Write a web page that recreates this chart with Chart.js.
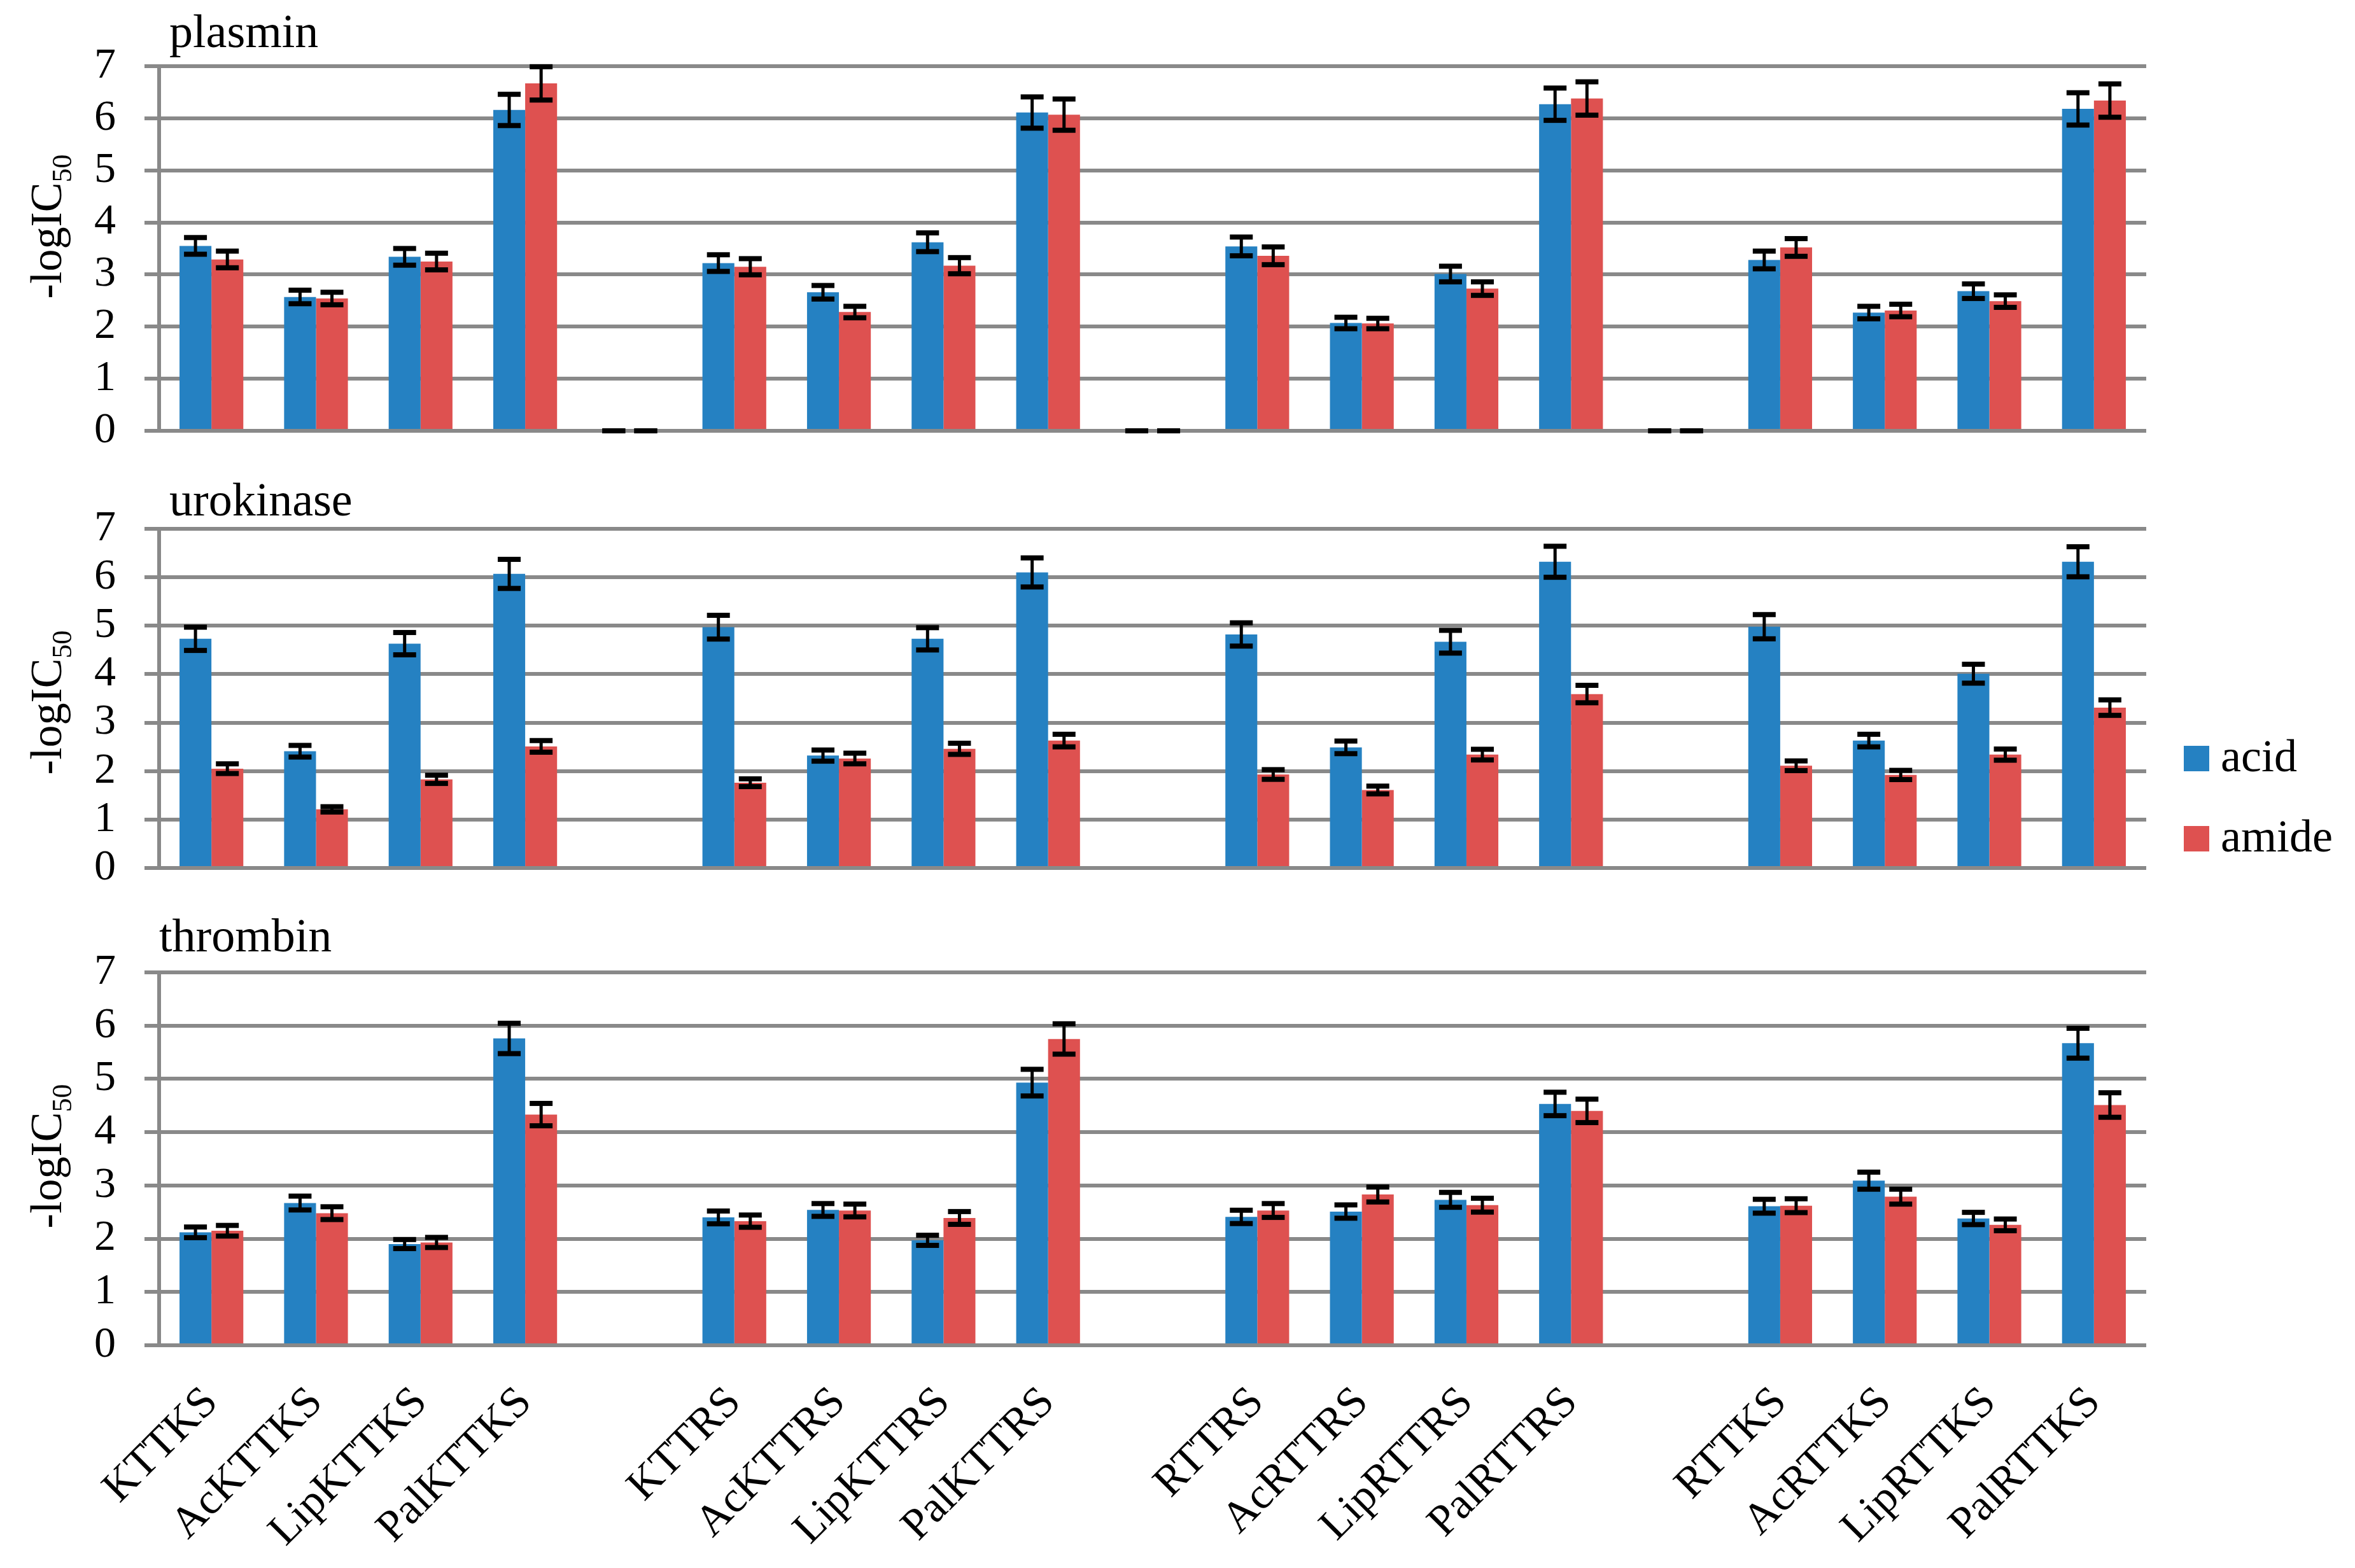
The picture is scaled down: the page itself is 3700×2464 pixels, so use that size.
<!DOCTYPE html>
<html><head><meta charset="utf-8">
<script src="https://cdn.jsdelivr.net/npm/chart.js@4.4.1/dist/chart.umd.min.js"></script>
<style>
html,body{margin:0;padding:0;background:#fff;width:3700px;height:2464px;overflow:hidden;}
canvas{position:absolute;left:0;}
</style></head><body>
<canvas id="c1" width="3700" height="700" style="top:0px;width:3700px;height:700px"></canvas>
<canvas id="c2" width="3700" height="660" style="top:740px;width:3700px;height:660px"></canvas>
<canvas id="c3" width="3700" height="1064" style="top:1400px;width:3700px;height:1064px"></canvas>
<script>
// ---------- data ----------
const categories = ['KTTKS','AcKTTKS','LipKTTKS','PalKTTKS','', 'KTTRS','AcKTTRS','LipKTTRS','PalKTTRS','', 'RTTRS','AcRTTRS','LipRTTRS','PalRTTRS','', 'RTTKS','AcRTTKS','LipRTTKS','PalRTTKS'];
const seriesNames = ['acid','amide'];
const yTicks = [0,1,2,3,4,5,6,7];

const plasminAcid     = [3.55,2.57,3.34,6.16,0, 3.22,2.66,3.62,6.11,0, 3.54,2.07,3.01,6.27,0, 3.28,2.27,2.68,6.18];
const plasminAcidErr  = [0.16,0.13,0.16,0.30,0, 0.16,0.13,0.18,0.30,0, 0.18,0.11,0.15,0.31,0, 0.17,0.12,0.14,0.31];
const plasminAmide    = [3.29,2.54,3.25,6.67,0, 3.15,2.28,3.17,6.07,0, 3.36,2.06,2.73,6.38,0, 3.52,2.31,2.49,6.34];
const plasminAmideErr = [0.16,0.12,0.16,0.32,0, 0.155,0.11,0.155,0.30,0, 0.17,0.10,0.13,0.32,0, 0.17,0.12,0.12,0.32];

const urokinaseAcid     = [4.73,2.41,4.63,6.07,null, 4.97,2.32,4.73,6.10,null, 4.82,2.49,4.67,6.32,null, 4.98,2.63,4.01,6.32];
const urokinaseAcidErr  = [0.24,0.12,0.23,0.30,null, 0.245,0.115,0.23,0.30,null, 0.24,0.13,0.235,0.32,null, 0.25,0.13,0.195,0.31];
const urokinaseAmide    = [2.05,1.21,1.83,2.51,null, 1.76,2.26,2.46,2.63,null, 1.93,1.61,2.34,3.59,null, 2.11,1.92,2.34,3.31];
const urokinaseAmideErr = [0.10,0.055,0.085,0.12,null, 0.08,0.11,0.115,0.13,null, 0.10,0.08,0.11,0.18,null, 0.10,0.095,0.115,0.16];

const thrombinAcid     = [2.12,2.67,1.90,5.76,null, 2.40,2.54,1.97,4.93,null, 2.41,2.51,2.73,4.53,null, 2.61,3.09,2.38,5.67];
const thrombinAcidErr  = [0.10,0.13,0.085,0.285,null, 0.12,0.12,0.095,0.25,null, 0.125,0.125,0.14,0.22,null, 0.13,0.16,0.115,0.28];
const thrombinAmide    = [2.15,2.48,1.93,4.33,null, 2.33,2.53,2.39,5.75,null, 2.53,2.83,2.63,4.40,null, 2.62,2.79,2.26,4.51];
const thrombinAmideErr = [0.10,0.12,0.095,0.21,null, 0.115,0.12,0.12,0.285,null, 0.13,0.14,0.13,0.22,null, 0.13,0.14,0.11,0.23];

// ---------- style ----------
const BLUE = '#2581C2', RED = '#DE5150', GRID = '#898989';
const FONT = '"Liberation Serif", "Times New Roman", serif';

const errorBarPlugin = {
  id: 'errorBars',
  afterDatasetsDraw(chart) {
    const ctx = chart.ctx, ys = chart.scales.y;
    ctx.save();
    ctx.fillStyle = '#000';
    chart.data.datasets.forEach((ds, i) => {
      const meta = chart.getDatasetMeta(i);
      meta.data.forEach((bar, j) => {
        const v = ds.data[j], e = ds.errors[j];
        if (v === null || v === undefined || e === null) return;
        const yt = ys.getPixelForValue(v + e), yb = ys.getPixelForValue(v - e);
        const x = bar.x;
        ctx.fillRect(x - 2.5, yt, 5, yb - yt);
        ctx.fillRect(x - 18, yt - 4, 36, 8);
        ctx.fillRect(x - 18, yb - 4, 36, 8);
      });
    });
    ctx.restore();
  }
};

const textPlugin = {
  id: 'panelText',
  afterDraw(chart) {
    const o = chart.options.plugins.panelText;
    const ctx = chart.ctx;
    ctx.save();
    ctx.fillStyle = '#000';
    ctx.textBaseline = 'alphabetic';
    ctx.textAlign = 'left';
    // panel title
    ctx.font = '74px ' + FONT;
    ctx.fillText(o.title, o.titleX, o.titleY);
    // rotated y title with subscript
    const main = '-logIC', sub = '50';
    ctx.font = '70px ' + FONT;
    const wm = ctx.measureText(main).width;
    ctx.font = '44px ' + FONT;
    const wsub = ctx.measureText(sub).width;
    const w = wm + wsub;
    ctx.translate(96, o.yTitleCenter);
    ctx.rotate(-Math.PI / 2);
    ctx.font = '70px ' + FONT;
    ctx.fillText(main, -w / 2, 0);
    ctx.font = '44px ' + FONT;
    ctx.fillText(sub, -w / 2 + wm, 16);
    ctx.restore();
    // legend
    if (o.legend) {
      ctx.save();
      ctx.font = '72px ' + FONT;
      ctx.textBaseline = 'alphabetic';
      chart.data.datasets.forEach((ds, i) => {
        const L = o.legend[i];
        ctx.fillStyle = ds.backgroundColor;
        ctx.fillRect(L.x, L.y, 40, 40);
        ctx.fillStyle = '#000';
        ctx.fillText(ds.label, L.x + 58, L.y + 40);
      });
      ctx.restore();
    }
  }
};

function makeChart(id, acid, acidErr, amide, amideErr, cfg) {
  return new Chart(document.getElementById(id), {
    type: 'bar',
    data: {
      labels: categories,
      datasets: [
        { label: seriesNames[0], data: acid, errors: acidErr, backgroundColor: BLUE, borderWidth: 0 },
        { label: seriesNames[1], data: amide, errors: amideErr, backgroundColor: RED, borderWidth: 0 }
      ]
    },
    options: {
      responsive: false,
      animation: false,
      devicePixelRatio: 1,
      layout: { padding: { top: cfg.padTop, bottom: 0, left: 0, right: 328 } },
      datasets: { bar: { categoryPercentage: 0.61, barPercentage: 1.0 } },
      plugins: {
        legend: { display: false },
        tooltip: { enabled: false },
        panelText: cfg.text
      },
      scales: {
        x: {
          display: true,
          grid: { display: false, drawTicks: false },
          border: { display: false },
          ticks: {
            display: cfg.showX,
            autoSkip: false, maxRotation: 45, minRotation: 45, padding: 50,
            color: '#000', font: { family: FONT, size: 69 }
          },
          afterFit(scale) {
            scale.height = cfg.xHeight;
            scale.paddingLeft = 0; scale.paddingRight = 0;
          }
        },
        y: {
          min: 0, max: 7,
          afterBuildTicks(scale) { scale.ticks = yTicks.map(v => ({ value: v })); },
          afterFit(scale) {
            scale.width = 250;
            scale.paddingTop = 0; scale.paddingBottom = 0;
          },
          grid: { color: GRID, lineWidth: 6, tickLength: 23, drawTicks: true },
          border: { display: true, color: GRID, width: 6 },
          ticks: { autoSkip: false, padding: 45, color: '#000', font: { family: FONT, size: 68 } }
        }
      }
    },
    plugins: [errorBarPlugin, textPlugin]
  });
}

makeChart('c1', plasminAcid, plasminAcidErr, plasminAmide, plasminAmideErr, {
  padTop: 104, showX: false, xHeight: 23,
  text: { title: 'plasmin', titleX: 266, titleY: 74, yTitleCenter: 356 }
});
makeChart('c2', urokinaseAcid, urokinaseAcidErr, urokinaseAmide, urokinaseAmideErr, {
  padTop: 91, showX: false, xHeight: 36,
  text: { title: 'urokinase', titleX: 266, titleY: 70, yTitleCenter: 364,
          legend: [{ x: 3431, y: 432 }, { x: 3431, y: 558 }] }
});
makeChart('c3', thrombinAcid, thrombinAcidErr, thrombinAmide, thrombinAmideErr, {
  padTop: 128, showX: true, xHeight: 350,
  text: { title: 'thrombin', titleX: 250, titleY: 95, yTitleCenter: 417 }
});
</script>
</body></html>
